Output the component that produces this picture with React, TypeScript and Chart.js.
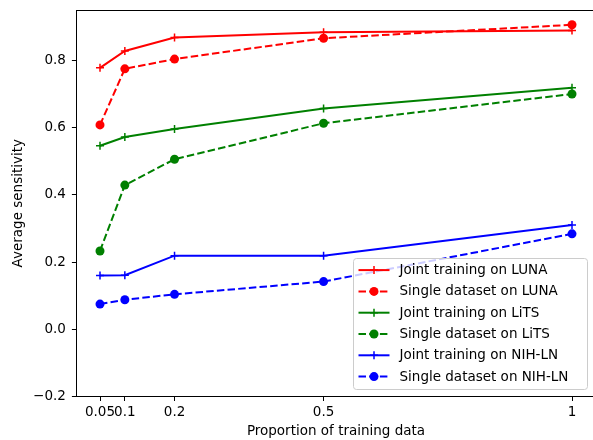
import React, { useEffect, useRef } from "react";
import { Chart, registerables } from "chart.js";

Chart.register(...registerables);

const proportions = [0.05, 0.1, 0.2, 0.5, 1];
const xTickLabels = ["0.05", "0.1", "0.2", "0.5", "1"];
const yTickValues = [-0.2, 0, 0.2, 0.4, 0.6, 0.8];
const yTickLabels = ["\u22120.2", "0.0", "0.2", "0.4", "0.6", "0.8"];

const lunaJoint = [0.778, 0.828, 0.868, 0.884, 0.889];
const lunaSingle = [0.608, 0.775, 0.804, 0.866, 0.906];
const litsJoint = [0.546, 0.572, 0.596, 0.657, 0.719];
const litsSingle = [0.233, 0.429, 0.506, 0.613, 0.7];
const nihJoint = [0.16, 0.161, 0.219, 0.219, 0.31];
const nihSingle = [0.075, 0.088, 0.104, 0.142, 0.284];

const seriesLabels = [
  "Joint training on LUNA",
  "Single dataset on LUNA",
  "Joint training on LiTS",
  "Single dataset on LiTS",
  "Joint training on NIH-LN",
  "Single dataset on NIH-LN",
];
const seriesValues = [lunaJoint, lunaSingle, litsJoint, litsSingle, nihJoint, nihSingle];
const seriesColors = ["#ff0000", "#ff0000", "#008000", "#008000", "#0000ff", "#0000ff"];
const seriesDashed = [false, true, false, true, false, true];

const FONT = '"DejaVu Sans", sans-serif';
const FONT_SIZE = 13.5;
const DASH = [7.5, 3.2];

const mplPlugin = {
  id: "mplExtras",
  afterDraw(chart: any) {
    const { ctx, chartArea } = chart;
    ctx.save();
    // top spine
    ctx.strokeStyle = "#000";
    ctx.lineWidth = 1;
    ctx.beginPath();
    const ty = Math.round(chartArea.top) + 0.5;
    ctx.moveTo(chartArea.left, ty);
    ctx.lineTo(chartArea.right, ty);
    ctx.stroke();

    // legend
    const w = 234;
    const h = 131;
    const right = chartArea.right - 8.5;
    const bottom = chartArea.bottom - 7.5;
    const x0 = Math.round(right - w) + 0.5;
    const y0 = Math.round(bottom - h) + 0.5;
    const r = 3;
    ctx.beginPath();
    ctx.moveTo(x0 + r, y0);
    ctx.lineTo(x0 + w - r, y0);
    ctx.arcTo(x0 + w, y0, x0 + w, y0 + r, r);
    ctx.lineTo(x0 + w, y0 + h - r);
    ctx.arcTo(x0 + w, y0 + h, x0 + w - r, y0 + h, r);
    ctx.lineTo(x0 + r, y0 + h);
    ctx.arcTo(x0, y0 + h, x0, y0 + h - r, r);
    ctx.lineTo(x0, y0 + r);
    ctx.arcTo(x0, y0, x0 + r, y0, r);
    ctx.closePath();
    ctx.fillStyle = "rgba(255,255,255,0.8)";
    ctx.fill();
    ctx.strokeStyle = "#cccccc";
    ctx.stroke();

    const rowH = 21.3;
    const firstRow = y0 + 11.6;
    ctx.font = `${FONT_SIZE}px ${FONT}`;
    ctx.textBaseline = "middle";
    ctx.textAlign = "left";
    seriesLabels.forEach((label, i) => {
      const cy = firstRow + i * rowH;
      const lx1 = x0 + 5;
      const lx2 = x0 + 36;
      const mx = (lx1 + lx2) / 2;
      ctx.strokeStyle = seriesColors[i];
      ctx.fillStyle = seriesColors[i];
      ctx.lineWidth = 2;
      ctx.setLineDash(seriesDashed[i] ? DASH : []);
      ctx.beginPath();
      ctx.moveTo(lx1, cy);
      ctx.lineTo(lx2, cy);
      ctx.stroke();
      ctx.setLineDash([]);
      if (seriesDashed[i]) {
        ctx.beginPath();
        ctx.arc(mx, cy, 4.5, 0, Math.PI * 2);
        ctx.fill();
      } else {
        ctx.lineWidth = 1.5;
        ctx.beginPath();
        ctx.moveTo(mx - 4, cy);
        ctx.lineTo(mx + 4, cy);
        ctx.moveTo(mx, cy - 4);
        ctx.lineTo(mx, cy + 4);
        ctx.stroke();
      }
      ctx.fillStyle = "#000";
      ctx.fillText(label, x0 + 46, cy + 0.5);
    });
    ctx.restore();
  },
};

export default function App() {
  const canvasRef = useRef<HTMLCanvasElement | null>(null);

  useEffect(() => {
    if (!canvasRef.current) return;
    Chart.defaults.font.family = FONT;
    Chart.defaults.font.size = FONT_SIZE;
    Chart.defaults.color = "#000";

    const datasets = seriesLabels.map((label, i) => ({
      label,
      data: proportions.map((x, j) => ({ x, y: seriesValues[i][j] })),
      borderColor: seriesColors[i],
      backgroundColor: seriesColors[i],
      borderWidth: 2,
      borderDash: seriesDashed[i] ? DASH : [],
      pointStyle: seriesDashed[i] ? "circle" : "cross",
      pointRadius: seriesDashed[i] ? 4.5 : 4,
      pointBorderWidth: seriesDashed[i] ? 0 : 1.5,
      pointBorderColor: seriesColors[i],
      pointBackgroundColor: seriesColors[i],
      tension: 0,
      fill: false,
      clip: false as any,
    }));

    const chart = new Chart(canvasRef.current, {
      type: "line",
      data: { datasets },
      plugins: [mplPlugin],
      options: {
        responsive: false,
        animation: false,
        devicePixelRatio: 1,
        layout: { padding: { left: 0, top: 10, right: 24.4, bottom: 0 } },
        plugins: { legend: { display: false }, tooltip: { enabled: false } },
        scales: {
          x: {
            type: "linear",
            min: 0.0025,
            max: 1.0475,
            afterBuildTicks: (scale: any) => {
              scale.ticks = proportions.map((v) => ({ value: v }));
            },
            afterFit: (scale: any) => {
              scale.height = 43.5;
              scale.paddingLeft = 0;
              scale.paddingRight = 0;
              scale.paddingTop = 0;
              scale.paddingBottom = 0;
            },
            ticks: {
              autoSkip: false,
              maxRotation: 0,
              padding: 3,
              callback: (_v: any, i: number) => xTickLabels[i],
            },
            grid: { display: true, drawOnChartArea: false, drawTicks: true, tickLength: 4.5, color: "#000", lineWidth: 1 },
            border: { display: true, color: "#000", width: 1 },
            title: {
              display: true,
              text: "Proportion of training data",
              padding: { top: 0, bottom: 0 },
              font: { size: FONT_SIZE },
            },
          },
          y: {
            type: "linear",
            min: -0.2,
            max: 0.95,
            afterBuildTicks: (scale: any) => {
              scale.ticks = yTickValues.map((v) => ({ value: v }));
            },
            afterFit: (scale: any) => {
              scale.width = 76.4;
              scale.paddingLeft = 0;
              scale.paddingRight = 0;
              scale.paddingTop = 0;
              scale.paddingBottom = 0;
            },
            ticks: {
              padding: 6,
              callback: (_v: any, i: number) => yTickLabels[i],
            },
            grid: { display: true, drawOnChartArea: false, drawTicks: true, tickLength: 4.5, color: "#000", lineWidth: 1 },
            border: { display: true, color: "#000", width: 1 },
            title: {
              display: true,
              text: "Average sensitivity",
              padding: { top: 10, bottom: 0 },
              font: { size: FONT_SIZE },
            },
          },
        },
      },
    } as any);

    return () => chart.destroy();
  }, []);

  return (
    <div
      style={{
        position: "fixed",
        left: 0,
        top: 0,
        width: 593,
        height: 440,
        overflow: "hidden",
        background: "#fff",
      }}
    >
      <canvas ref={canvasRef} width={620} height={440} style={{ display: "block" }} />
    </div>
  );
}
